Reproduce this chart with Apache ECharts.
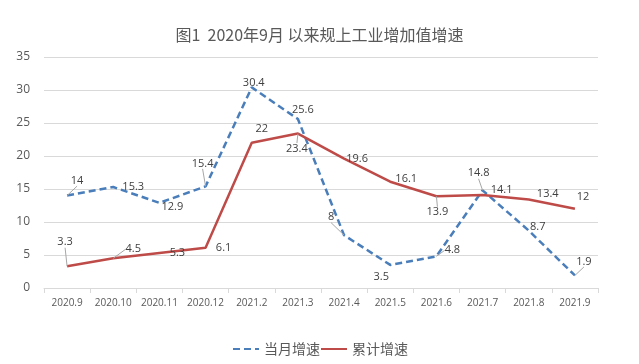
<!DOCTYPE html>
<html><head><meta charset="utf-8">
<script src="https://cdn.jsdelivr.net/npm/echarts@6/dist/echarts.min.js"></script>
<style>html,body{margin:0;padding:0;background:#fff}#c{width:639px;height:364px}</style>
</head><body><div id="c"></div>
<script>
const categories = ['2020.9','2020.10','2020.11','2020.12','2021.2','2021.3','2021.4','2021.5','2021.6','2021.7','2021.8','2021.9'];
const monthly = [14, 15.3, 12.9, 15.4, 30.4, 25.6, 8, 3.5, 4.8, 14.8, 8.7, 1.9];
const cumulative = [3.3, 4.5, 5.3, 6.1, 22, 23.4, 19.6, 16.1, 13.9, 14.1, 13.4, 12];
const yTicks = [0, 5, 10, 15, 20, 25, 30, 35];

// label placement (styling)
const monthlyOff = [[10,-15],[20,0],[13,4],[-3,-23],[2,-5],[5,-9],[-13,-18],[-9,12],[16,-6],[-4,-17],[9,-4],[9,-14]];
const cumOff = [[-2,-24],[20,-9],[18,0],[18,0],[10,-14],[-1,15],[13,0],[16,-3],[1,16],[19,-5],[19,-6],[8,-12]];
const monthlyLead = [1,0,0,1,0,0,1,0,1,1,0,1];
const cumLead = [1,1,0,0,0,1,0,0,1,0,0,0];
const offs = [monthlyOff, cumOff];

function items(vals, lead){
  return vals.map((v,i)=>({value:v, labelLine:{show:!!lead[i]}}));
}

const chart = echarts.init(document.getElementById('c'));
const lbl = {show:true, position:'inside', fontSize:11, color:'#404040', fontFamily:'"Open Sans", sans-serif'};
chart.setOption({
  animation:false,
  title:{text:'图1  2020年9月 以来规上工业增加值增速', left:'center', top:22,
    textStyle:{fontSize:16, fontWeight:'normal', color:'#595959', fontFamily:'"Noto Sans CJK SC", sans-serif'}},
  legend:{bottom:3, left:227, itemWidth:26, itemHeight:10, itemGap:0, itemStyle:{opacity:0},
    textStyle:{fontSize:14, color:'#595959', fontFamily:'"Noto Sans CJK SC", sans-serif'}},
  grid:{left:44, right:41, top:57, bottom:76},
  xAxis:{type:'category', data:categories, boundaryGap:true,
    axisLine:{lineStyle:{color:'#d9d9d9'}}, axisTick:{show:true, lineStyle:{color:'#d9d9d9'}},
    axisLabel:{interval:0, fontSize:10, color:'#595959', margin:10, fontFamily:'"Open Sans", sans-serif'}},
  yAxis:{type:'value', min:yTicks[0], max:yTicks[yTicks.length-1], interval:5,
    axisLine:{show:false}, axisTick:{show:false},
    axisLabel:{fontSize:12, color:'#595959', margin:14, fontFamily:'"Open Sans", sans-serif'},
    splitLine:{lineStyle:{color:'#d9d9d9'}}},
  labelLayout: function(p){ const o = offs[p.seriesIndex][p.dataIndex]; return {dx:o[0], dy:o[1]}; },
  series:[
    {name:'当月增速', type:'line', data:items(monthly, monthlyLead), symbol:'circle', symbolSize:0.01, showSymbol:true, color:'#4a7ebb',
      itemStyle:{color:'transparent', borderColor:'transparent'},
      lineStyle:{width:2.5, type:[7,4], color:'#4a7ebb'}, label:lbl,
      labelLine:{show:true, lineStyle:{color:'#a6a6a6', width:1}}},
    {name:'累计增速', type:'line', data:items(cumulative, cumLead), symbol:'circle', symbolSize:0.01, showSymbol:true, color:'#be4b48',
      itemStyle:{color:'transparent', borderColor:'transparent'},
      lineStyle:{width:2.5, color:'#be4b48'}, label:lbl,
      labelLine:{show:true, lineStyle:{color:'#a6a6a6', width:1}}}
  ]
});
</script></body></html>
